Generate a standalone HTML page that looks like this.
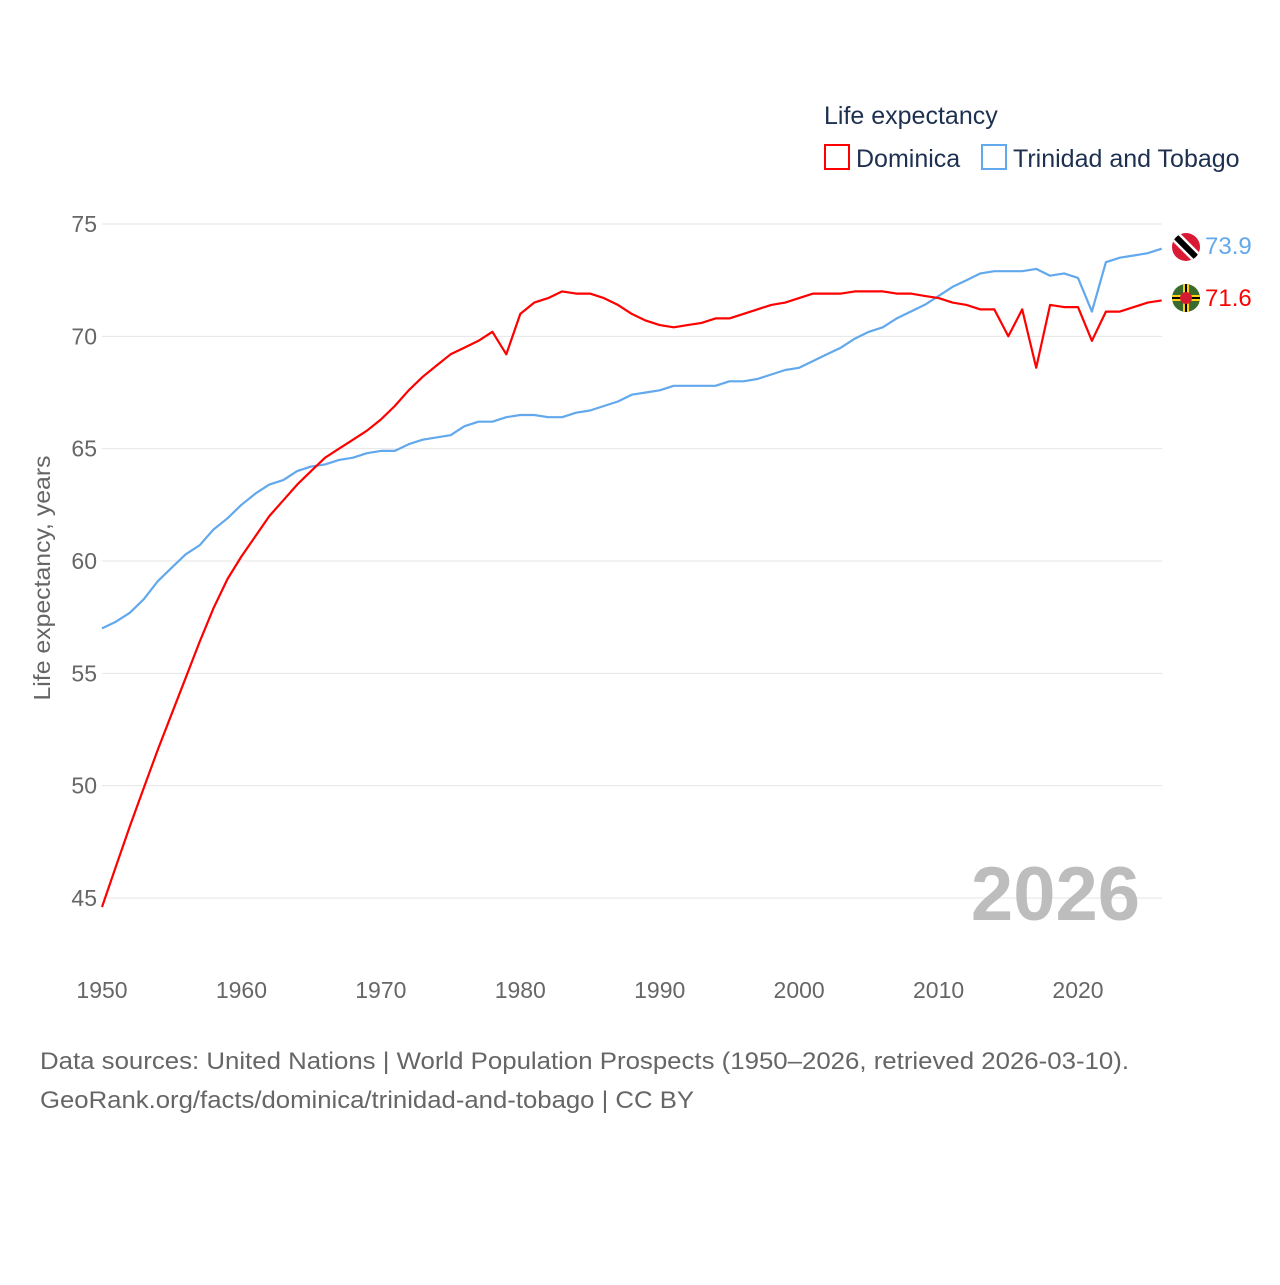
<!DOCTYPE html>
<html><head><meta charset="utf-8"><style>
html,body{margin:0;padding:0;background:#fff;}
svg text{font-family:"Liberation Sans",sans-serif;}
</style></head><body>
<svg id="chart" width="1280" height="1280" xmlns="http://www.w3.org/2000/svg">
<g id="grid"></g>
<g id="yticks"></g>
<g id="xticks"></g>
<text transform="translate(50,578) rotate(-90)" text-anchor="middle" font-size="23" fill="#666" textLength="245" lengthAdjust="spacingAndGlyphs">Life expectancy, years</text>
<text x="1140" y="920" text-anchor="end" font-size="76" font-weight="bold" fill="#bdbdbd">2026</text>
<g id="series"></g>
<g>
<text x="824" y="124" font-size="25" fill="#1d3050">Life expectancy</text>
<g>
<rect x="825" y="145" width="24" height="24" fill="none" stroke="#ff0000" stroke-width="2"/>
<text x="856" y="167" font-size="25" fill="#1d3050">Dominica</text></g>
<g>
<rect x="982" y="145" width="24" height="24" fill="none" stroke="#62a8ec" stroke-width="2"/>
<text x="1013" y="167" font-size="25" fill="#1d3050">Trinidad and Tobago</text></g>
</g>
<g>
<clipPath id="c1"><circle cx="1186" cy="247" r="14"/></clipPath>
<g clip-path="url(#c1)"><rect x="1170" y="231" width="32" height="32" fill="#da1a35"/>
<line x1="1172" y1="233" x2="1200" y2="261" stroke="#fff" stroke-width="11"/>
<line x1="1172" y1="233" x2="1200" y2="261" stroke="#000" stroke-width="6"/></g></g>
<g>
<clipPath id="c2"><circle cx="1186" cy="298" r="14"/></clipPath>
<g clip-path="url(#c2)"><rect x="1170" y="282" width="32" height="32" fill="#3a6b2a"/>
<rect x="1170" y="295" width="32" height="6" fill="#fcd116"/><rect x="1170" y="297" width="32" height="2" fill="#000"/>
<rect x="1183" y="282" width="6" height="32" fill="#fcd116"/><rect x="1185" y="282" width="2" height="32" fill="#000"/>
<circle cx="1186" cy="298" r="6" fill="#d41c30"/></g></g>
<text x="1205" y="254" font-size="24" fill="#62a8ec">73.9</text>
<text x="1205" y="306" font-size="24" fill="#ff0000">71.6</text>
<text x="40" y="1069" font-size="24" fill="#666" textLength="1089" lengthAdjust="spacingAndGlyphs">Data sources: United Nations | World Population Prospects (1950–2026, retrieved 2026-03-10).</text>
<text x="40" y="1108" font-size="24" fill="#666" textLength="654" lengthAdjust="spacingAndGlyphs">GeoRank.org/facts/dominica/trinidad-and-tobago | CC BY</text>
</svg>
<script>
const years=[];for(let y=1950;y<=2026;y++)years.push(y);
const dominica=[44.6,46.4,48.2,49.9,51.6,53.2,54.8,56.4,57.9,59.2,60.2,61.1,62.0,62.7,63.4,64.0,64.6,65.0,65.4,65.8,66.3,66.9,67.6,68.2,68.7,69.2,69.5,69.8,70.2,69.2,71.0,71.5,71.7,72.0,71.9,71.9,71.7,71.4,71.0,70.7,70.5,70.4,70.5,70.6,70.8,70.8,71.0,71.2,71.4,71.5,71.7,71.9,71.9,71.9,72.0,72.0,72.0,71.9,71.9,71.8,71.7,71.5,71.4,71.2,71.2,70.0,71.2,68.6,71.4,71.3,71.3,69.8,71.1,71.1,71.3,71.5,71.6];
const trinidad=[57.0,57.3,57.7,58.3,59.1,59.7,60.3,60.7,61.4,61.9,62.5,63.0,63.4,63.6,64.0,64.2,64.3,64.5,64.6,64.8,64.9,64.9,65.2,65.4,65.5,65.6,66.0,66.2,66.2,66.4,66.5,66.5,66.4,66.4,66.6,66.7,66.9,67.1,67.4,67.5,67.6,67.8,67.8,67.8,67.8,68.0,68.0,68.1,68.3,68.5,68.6,68.9,69.2,69.5,69.9,70.2,70.4,70.8,71.1,71.4,71.8,72.2,72.5,72.8,72.9,72.9,72.9,73.0,72.7,72.8,72.6,71.1,73.3,73.5,73.6,73.7,73.9];
const yTicks=[45,50,55,60,65,70,75];
const xTicks=[1950,1960,1970,1980,1990,2000,2010,2020];
const X=y=>102+(y-1950)*(1078-102)/70;
const Y=v=>224+(75-v)*(898-224)/30;
const NS="http://www.w3.org/2000/svg";
function mk(tag,attrs,parent){const e=document.createElementNS(NS,tag);for(const k in attrs)e.setAttribute(k,attrs[k]);parent.appendChild(e);return e;}
const grid=document.getElementById('grid'),yt=document.getElementById('yticks'),xt=document.getElementById('xticks'),ser=document.getElementById('series');
yTicks.forEach(v=>{
 const l=mk('line',{x1:102,x2:1162,y1:Y(v),y2:Y(v),stroke:'#e6e6e6','stroke-width':1},grid);
 
 
 const t=mk('text',{x:97,y:Y(v)+8,'text-anchor':'end','font-size':23,fill:'#666'},yt);
 t.textContent=v;
 
 
});
xTicks.forEach(v=>{
 const t=mk('text',{x:X(v),y:998,'text-anchor':'middle','font-size':23,fill:'#666'},xt);
 t.textContent=v;
 
 
});
function line(data,color,name){
 const d=data.map((v,i)=>(i?'L':'M')+X(years[i]).toFixed(1)+','+Y(v).toFixed(1)).join('');
 const p=mk('path',{d:d,fill:'none',stroke:color,'stroke-width':2.2,'stroke-linejoin':'round'},ser);
 
 
}
line(trinidad,'#62a8ec','line-trinidad-and-tobago');
line(dominica,'#ff0000','line-dominica');
</script>
</body></html>
